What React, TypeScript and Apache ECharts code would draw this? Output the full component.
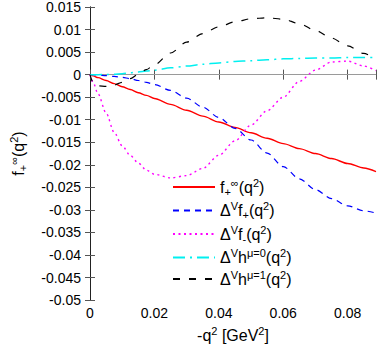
import React, { useEffect, useRef } from "react";
import * as echarts from "echarts";

// -q^2 grid [GeV^2]
const q = [0, 0.001, 0.0025, 0.005, 0.0075, 0.01, 0.0125, 0.015, 0.0175, 0.02, 0.025, 0.03, 0.035, 0.04, 0.045, 0.05, 0.055, 0.06, 0.065, 0.07, 0.075, 0.08, 0.085, 0.0888];

const fInfPlus = [0, -0.00027, -0.00067, -0.0013, -0.002, -0.0027, -0.0033, -0.004, -0.0046, -0.0053, -0.0066, -0.0079, -0.0092, -0.0105, -0.0117, -0.0129, -0.0141, -0.0153, -0.0164, -0.0175, -0.0186, -0.0197, -0.0207, -0.0215];
const dVfPlus = [0, -0.00002, -0.0001, -0.0002, -0.0004, -0.0006, -0.0009, -0.0013, -0.0017, -0.0022, -0.0035, -0.0052, -0.0072, -0.0095, -0.0119, -0.0145, -0.0174, -0.0204, -0.0231, -0.0255, -0.0275, -0.0291, -0.0302, -0.0307];
const dVfMinus = [0, -0.0018, -0.0043, -0.0085, -0.0128, -0.0158, -0.0179, -0.0196, -0.0212, -0.0221, -0.0229, -0.0224, -0.0208, -0.0179, -0.0147, -0.0112, -0.008, -0.005, -0.0015, 0.001, 0.0028, 0.003, 0.0019, 0.0009];
const dVh0 = [0, 0, 0, 0.00002, 0.0001, 0.0002, 0.0004, 0.0006, 0.0008, 0.001, 0.0015, 0.0019, 0.0023, 0.0026, 0.0029, 0.0031, 0.0033, 0.0035, 0.0036, 0.0037, 0.0037, 0.0038, 0.0038, 0.0038];
const dVh1 = [0, -0.0018, -0.0025, -0.0026, -0.0023, -0.0017, -0.0009, 0.0001, 0.0011, 0.0022, 0.0048, 0.0072, 0.0091, 0.0106, 0.0117, 0.0124, 0.0126, 0.0123, 0.0113, 0.0098, 0.0081, 0.0064, 0.0047, 0.0034];

const seriesNames = ["fInf", "dVfPlus", "dVfMinus", "dVh0", "dVh1"];
const legendTexts: Record<string, string> = {
  fInf: "{n|f}{sub|+}{sup|∞}{n|(q}{sup|2}{n|)}",
  dVfPlus: "{n|Δ}{sup|V}{n|f}{sub|+}{n|(q}{sup|2}{n|)}",
  dVfMinus: "{n|Δ}{sup|V}{n|f}{sub|-}{n|(q}{sup|2}{n|)}",
  dVh0: "{n|Δ}{sup|V}{n|h}{sup|μ=0}{n|(q}{sup|2}{n|)}",
  dVh1: "{n|Δ}{sup|V}{n|h}{sup|μ=1}{n|(q}{sup|2}{n|)}",
};
const yTitle = "{n|f}{sub|+}{sup|∞}{n|(q}{sup|2}{n|)}";
const xTitle = "{n|-q}{sup|2}{n| [GeV}{sup|2}{n|]}";

const X_MIN = 0;
const X_MAX = 0.0888;
const Y_MIN = -0.05;
const Y_MAX = 0.015;

const FONT = "Liberation Sans, Arial, Helvetica, sans-serif";

const rich = {
  n: { fontSize: 16, fontFamily: FONT, color: "#000", lineHeight: 20, verticalAlign: "middle" },
  sup: { fontSize: 11, fontFamily: FONT, color: "#000", lineHeight: 11, verticalAlign: "top" },
  sub: { fontSize: 11, fontFamily: FONT, color: "#000", lineHeight: 11, verticalAlign: "bottom" },
};

const pair = (ys: number[]) => q.map((x, i) => [x, ys[i]]);

export default function App() {
  const ref = useRef<HTMLDivElement>(null);
  useEffect(() => {
    if (!ref.current) return;
    const chart = echarts.init(ref.current, undefined, { renderer: "svg" });
    const frame = { show: true, lineStyle: { color: "#222", width: 1 } };
    const tick = { show: true, inside: true, length: 5, lineStyle: { color: "#555", width: 1 } };
    const mk = (name: string, ys: number[], color: string, type: any, width = 1.2) => ({
      name,
      type: "line",
      data: pair(ys),
      showSymbol: false,
      symbol: "none",
      smooth: 0.3,
      smoothMonotone: "x",
      lineStyle: { color, type, width },
      itemStyle: { color },
      z: 3,
    });
    chart.setOption({
      animation: false,
      grid: { left: 86, right: 9, top: 7, bottom: 46, containLabel: false },
      xAxis: [
        {
          type: "value",
          min: X_MIN,
          max: X_MAX,
          interval: 0.02,
          position: "bottom",
          axisLine: frame,
          axisTick: tick,
          splitLine: { show: false },
          axisLabel: {
            margin: 6,
            color: "#000",
            fontSize: 14,
            fontFamily: FONT,
            formatter: (v: number) => (Math.abs(v / 0.02 - Math.round(v / 0.02)) < 1e-6 ? String(+v.toFixed(2)) : ""),
          },
          name: xTitle,
          nameLocation: "middle",
          nameGap: 18,
          nameTextStyle: { rich },
        },
        {
          type: "value",
          min: X_MIN,
          max: X_MAX,
          interval: 0.02,
          position: "top",
          axisLine: frame,
          axisTick: tick,
          axisLabel: { show: false },
          splitLine: { show: false },
        },
      ],
      yAxis: [
        {
          type: "value",
          min: Y_MIN,
          max: Y_MAX,
          interval: 0.005,
          position: "left",
          axisLine: frame,
          axisTick: tick,
          splitLine: { show: false },
          axisLabel: {
            margin: 9,
            color: "#000",
            fontSize: 14,
            fontFamily: FONT,
            formatter: (v: number) => String(+v.toFixed(3)),
          },
          name: yTitle,
          nameLocation: "middle",
          nameRotate: 90,
          nameGap: 62,
          nameTextStyle: { rich },
        },
        {
          type: "value",
          min: Y_MIN,
          max: Y_MAX,
          interval: 0.005,
          position: "right",
          axisLine: frame,
          axisTick: tick,
          axisLabel: { show: false },
          splitLine: { show: false },
        },
      ],
      legend: {
        orient: "vertical",
        left: 167,
        top: 172,
        itemWidth: 42,
        itemHeight: 10,
        itemGap: 3.5,
        data: seriesNames,
        itemStyle: { opacity: 0 },
        formatter: (name: string) => legendTexts[name],
        textStyle: { rich },
      },
      series: [
        {
          ...mk("fInf", fInfPlus, "#ff0000", "solid", 1.4),
          markLine: {
            silent: true,
            symbol: "none",
            label: { show: false },
            lineStyle: { color: "#9a9a9a", type: "solid", width: 1 },
            data: [{ yAxis: 0 }],
            z: 2,
          },
        },
        mk("dVfPlus", dVfPlus, "#0000ff", [6, 5]),
        mk("dVfMinus", dVfMinus, "#ff00ff", [2, 3.5], 1.4),
        mk("dVh0", dVh0, "#00f0f0", [12, 5, 2, 5], 1.5),
        mk("dVh1", dVh1, "#000000", [7, 9]),
      ],
    });
    return () => chart.dispose();
  }, []);
  return <div ref={ref} style={{ position: "absolute", left: 0, top: 0, width: 385, height: 348 }} />;
}
